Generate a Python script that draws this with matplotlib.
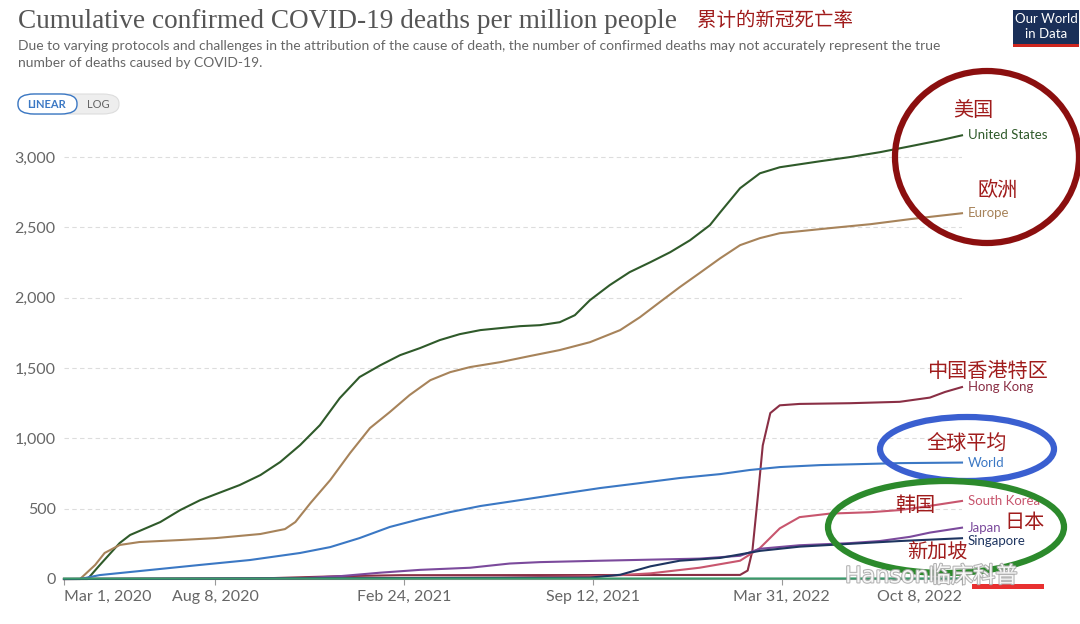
import matplotlib
matplotlib.use("Agg")
import matplotlib.pyplot as plt
import matplotlib.patheffects as pe
from matplotlib.patches import Ellipse, FancyBboxPatch, Rectangle
import pandas as pd

plt.rcParams['font.family'] = ['Lato', 'Noto Sans CJK SC', 'DejaVu Sans']

# ---- data ----
us_dates = ["2020-03-01", "2020-03-26", "2020-04-08", "2020-04-29", "2020-05-10", "2020-06-11",
            "2020-07-02", "2020-07-23", "2020-08-09", "2020-09-03", "2020-09-25", "2020-10-16",
            "2020-11-06", "2020-11-27", "2020-12-18", "2021-01-08", "2021-01-30", "2021-02-20",
            "2021-03-13", "2021-04-03", "2021-04-24", "2021-05-16", "2021-06-06", "2021-06-27",
            "2021-07-18", "2021-08-08", "2021-08-24", "2021-09-09", "2021-09-30", "2021-10-21",
            "2021-11-12", "2021-12-03", "2021-12-24", "2022-01-14", "2022-01-25", "2022-02-15",
            "2022-03-08", "2022-03-29", "2022-04-19", "2022-05-11", "2022-06-11", "2022-07-13",
            "2022-08-14", "2022-09-15", "2022-10-08"]
us_vals = [0, 0, 100, 256, 313, 405, 490, 560, 604, 668, 739, 832, 952, 1094, 1286, 1436, 1520,
           1592, 1642, 1699, 1741, 1770, 1784, 1798, 1805, 1826, 1876, 1983, 2090, 2182, 2253,
           2324, 2409, 2516, 2608, 2779, 2885, 2928, 2949, 2971, 3000, 3035, 3077, 3120, 3155]

eu_dates = ["2020-03-01", "2020-03-18", "2020-04-03", "2020-04-13", "2020-04-29", "2020-05-20",
            "2020-07-02", "2020-08-09", "2020-09-25", "2020-10-21", "2020-11-01", "2020-11-17",
            "2020-12-08", "2020-12-29", "2021-01-19", "2021-02-09", "2021-03-02", "2021-03-24",
            "2021-04-14", "2021-05-05", "2021-06-06", "2021-07-07", "2021-08-08", "2021-09-09",
            "2021-10-11", "2021-11-01", "2021-11-22", "2021-12-13", "2022-01-03", "2022-01-25",
            "2022-02-15", "2022-03-08", "2022-03-29", "2022-04-19", "2022-05-21", "2022-07-03",
            "2022-08-14", "2022-10-08"]
eu_vals = [0, 0, 100, 185, 242, 263, 277, 291, 320, 355, 405, 540, 704, 896, 1073, 1187, 1308,
           1414, 1471, 1507, 1542, 1585, 1628, 1684, 1770, 1862, 1969, 2075, 2175, 2281, 2374,
           2424, 2459, 2473, 2495, 2523, 2559, 2601]

hk_dates = ["2020-03-01", "2020-09-14", "2020-12-18", "2021-02-20", "2022-02-15", "2022-02-23",
            "2022-02-28", "2022-03-06", "2022-03-11", "2022-03-19", "2022-03-29", "2022-04-19",
            "2022-06-11", "2022-08-03", "2022-09-04", "2022-09-20", "2022-10-08"]
hk_vals = [0, 2, 20, 27, 29, 60, 200, 600, 950, 1180, 1235, 1245, 1250, 1260, 1290, 1330, 1365]

world_dates = ["2020-03-01", "2020-03-18", "2020-04-08", "2020-05-31", "2020-07-23", "2020-09-14",
               "2020-11-06", "2020-12-08", "2021-01-08", "2021-02-09", "2021-03-13", "2021-04-14",
               "2021-05-16", "2021-06-27", "2021-08-08", "2021-09-20", "2021-11-01", "2021-12-13",
               "2022-01-25", "2022-02-25", "2022-03-29", "2022-05-11", "2022-06-22", "2022-08-03",
               "2022-10-08"]
world_vals = [0, 0, 28, 64, 100, 135, 185, 227, 291, 370, 426, 476, 519, 561, 604, 647, 682, 718,
              746, 775, 796, 810, 817, 824, 828]

kr_dates = ["2020-03-01", "2020-11-06", "2021-06-06", "2021-09-20", "2021-11-12", "2022-01-03",
            "2022-02-15", "2022-03-08", "2022-03-29", "2022-04-19", "2022-05-21", "2022-07-03",
            "2022-08-03", "2022-09-04", "2022-10-08"]
kr_vals = [0, 5, 10, 20, 40, 80, 130, 220, 360, 440, 465, 475, 490, 520, 555]

jp_dates = ["2020-03-01", "2020-11-06", "2020-12-18", "2021-01-30", "2021-03-13", "2021-05-05",
            "2021-06-16", "2021-07-18", "2021-09-20", "2022-01-03", "2022-02-15", "2022-03-08",
            "2022-04-19", "2022-06-11", "2022-07-13", "2022-08-14", "2022-09-04", "2022-10-08"]
jp_vals = [0, 5, 20, 45, 65, 80, 110, 120, 130, 145, 165, 215, 240, 255, 270, 300, 330, 365]

sg_dates = ["2020-03-01", "2021-09-09", "2021-10-11", "2021-11-12", "2021-12-13", "2022-01-25",
            "2022-03-08", "2022-04-19", "2022-06-11", "2022-08-03", "2022-10-08"]
sg_vals = [0, 10, 30, 90, 130, 150, 200, 230, 250, 270, 290]

cn_dates = ["2020-03-01", "2022-10-08"]
cn_vals = [3, 4]

series = [
    ("United States", us_dates, us_vals, "#2f5a2a", 3155),
    ("Europe", eu_dates, eu_vals, "#a7835a", 2601),
    ("Hong Kong", hk_dates, hk_vals, "#8a2f45", 1365),
    ("World", world_dates, world_vals, "#3b78c4", 828),
    ("South Korea", kr_dates, kr_vals, "#c8566e", 555),
    ("Japan", jp_dates, jp_vals, "#7b4a9c", 365),
    ("Singapore", sg_dates, sg_vals, "#1e3560", 270),
    (None, cn_dates, cn_vals, "#3a9a6a", None),
]

tick_dates = ["2020-03-01", "2020-08-08", "2021-02-24", "2021-09-12", "2022-03-31", "2022-10-08"]
tick_labels = ["Mar 1, 2020", "Aug 8, 2020", "Feb 24, 2021", "Sep 12, 2021", "Mar 31, 2022", "Oct 8, 2022"]
y_ticks = [0, 500, 1000, 1500, 2000, 2500, 3000]

# ---- figure ----
W, H = 1080, 624
fig = plt.figure(figsize=(W / 100, H / 100), dpi=100)
ax = fig.add_axes([64 / W, 1 - 579 / H, (962 - 64) / W, (579 - 129) / H])

for name, d, v, c, ly in series:
    dd = pd.to_datetime(d)
    ax.plot(dd, v, color=c, lw=1.5, clip_on=False, zorder=3)
    if name:
        ax.annotate(name, xy=(dd[-1], ly), xytext=(4, 0), textcoords="offset points",
                    color=c, fontsize=9.5, va="center", ha="left", annotation_clip=False)

ax.set_xlim(pd.Timestamp("2020-03-01"), pd.Timestamp("2022-10-08"))
ax.set_ylim(0, 3200)
ax.set_yticks(y_ticks)
ax.set_yticklabels([f"{t:,}" for t in y_ticks])
ax.set_xticks(pd.to_datetime(tick_dates))
ax.set_xticklabels(tick_labels)
xl = ax.get_xticklabels()
xl[0].set_ha("left")
xl[-1].set_ha("right")
ax.grid(axis="y", ls=(0, (4, 3)), color="#dddddd", lw=0.8)
for s in ["top", "right", "left"]:
    ax.spines[s].set_visible(False)
ax.spines["bottom"].set_color("#999999")
ax.tick_params(axis="y", length=0, labelsize=11.5, labelcolor="#666666", pad=6)
ax.tick_params(axis="x", length=4, color="#999999", labelsize=11.5, labelcolor="#666666", pad=4)

# ---- header ----
fig.text(18 / W, 1 - 22 / H, "Cumulative confirmed COVID-19 deaths per million people",
         family="Liberation Serif", fontsize=19.6, color="#555555", va="center")
fig.text(697 / W, 1 - 20 / H, "累计的新冠死亡率", family="Noto Sans CJK SC",
         fontsize=14, color="#a01c1c", va="center")
fig.text(18 / W, 1 - 46 / H, "Due to varying protocols and challenges in the attribution of the cause of death, "
         "the number of confirmed deaths may not accurately represent the true",
         fontsize=10, color="#666666", va="center")
fig.text(18 / W, 1 - 63 / H, "number of deaths caused by COVID-19.", fontsize=10, color="#666666", va="center")

# LINEAR / LOG toggle
fig.patches.append(FancyBboxPatch((18 / W, 1 - 114 / H), 101 / W, 20 / H, boxstyle="round,pad=0,rounding_size=0.015",
                                  transform=fig.transFigure, fc="#eeeeee", ec="#dddddd", lw=0.8))
fig.patches.append(FancyBboxPatch((18 / W, 1 - 114 / H), 59 / W, 20 / H, boxstyle="round,pad=0,rounding_size=0.015",
                                  transform=fig.transFigure, fc="white", ec="#3b78c4", lw=1))
fig.text(47 / W, 1 - 104 / H, "LINEAR", fontsize=8, color="#3b78c4", ha="center", va="center", weight="bold")
fig.text(98 / W, 1 - 104 / H, "LOG", fontsize=8, color="#666666", ha="center", va="center")

# OWID logo
fig.patches.append(Rectangle((1013 / W, 1 - 44 / H), 66 / W, 34 / H, transform=fig.transFigure, fc="#1a2f58", ec="none"))
fig.patches.append(Rectangle((1013 / W, 1 - 47 / H), 66 / W, 3 / H, transform=fig.transFigure, fc="#ce261e", ec="none"))
fig.text(1046 / W, 1 - 19 / H, "Our World", fontsize=9.5, color="white", ha="center", va="center")
fig.text(1046 / W, 1 - 34 / H, "in Data", fontsize=9.5, color="white", ha="center", va="center")

# ---- hand-drawn annotations ----
red = "#a01c1c"
for txt, x, y in [("美国", 973, 110), ("欧洲", 998, 190), ("中国香港特区", 987, 371), ("全球平均", 967, 443),
                  ("韩国", 915, 505), ("日本", 1025, 523), ("新加坡", 937, 552)]:
    fig.text(x / W, 1 - y / H, txt, family="Noto Sans CJK SC", fontsize=14.5, color=red, ha="center", va="center")

for cx, cy, w, h, c in [(987, 157, 184, 172, "#8b0f0f"), (967, 449, 174, 64, "#3a5fd0"),
                        (946, 527, 236, 92, "#2c8a2c")]:
    fig.patches.append(Ellipse((cx / W, 1 - cy / H), w / W, h / H, transform=fig.transFigure,
                               fill=False, ec=c, lw=4.5))

# watermark
fig.text(845 / W, 1 - 576 / H, "Hanson临床科普", family=["DejaVu Sans", "Noto Sans CJK SC"],
         fontsize=16, color="white", alpha=0.9, va="center",
         path_effects=[pe.withStroke(linewidth=1.5, foreground="#aaaaaa")])
fig.patches.append(Rectangle((972 / W, 1 - 589 / H), 72 / W, 5 / H, transform=fig.transFigure, fc="#e83030", ec="none"))

fig.savefig("out.png", dpi=100, facecolor="white")
